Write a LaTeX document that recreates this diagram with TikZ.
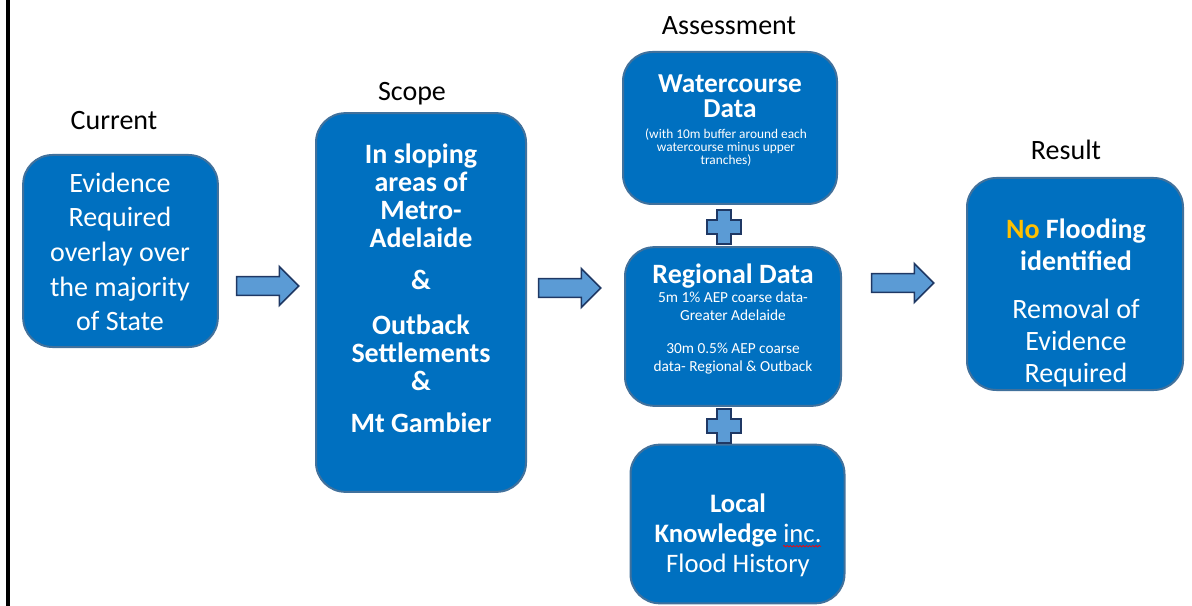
\documentclass[tikz,border=0pt]{standalone}
\usepackage{fontspec}
\setmainfont{Carlito}
\usetikzlibrary{shapes.arrows, decorations.pathmorphing}

\definecolor{boxblue}{HTML}{0070C0}
\definecolor{boxedge}{HTML}{41719C}
\definecolor{arrowfill}{HTML}{5B9BD5}
\definecolor{arrowedge}{HTML}{1F3864}
\definecolor{nogold}{HTML}{FFC000}

% red squiggle under a word
\newsavebox\spellbox
\newlength\spellwd
\newcommand\spellmark[1]{\sbox\spellbox{#1}\setlength\spellwd{\wd\spellbox}\usebox\spellbox\llap{\tikz[baseline=0pt]\draw[red, line width=0.5pt, decorate, decoration={snake, amplitude=0.6pt, segment length=2.4pt}] (0pt,-3pt) -- (\spellwd,-3pt);}}

\begin{document}
\begin{tikzpicture}[x=0.75pt, y=-0.75pt]
    \tikzstyle{stage}=[draw=boxedge, line width=1.5pt, fill=boxblue, rounded corners=22pt]
    \tikzstyle{inside}=[text=white, align=center, inner sep=0pt]
    \tikzstyle{heading}=[font=\fontsize{21}{25}\selectfont, inner sep=0pt]
    \tikzstyle{flow}=[single arrow, single arrow head extend=7.5pt, inner sep=6.4pt, minimum height=46.5pt, fill=arrowfill, draw=arrowedge, line width=1.2pt]
    \useasboundingbox (0,0) rectangle (1192,606);
    \draw[line width=2.5pt] (8,0) -- (8,606);

    % column headings
    \node[heading] (hcur) at (114,120.5) {Current};
    \node[heading] (hscope) at (412,93.5) {Scope};
    \node[heading] (hass) at (729,26) {Assessment};
    \node[heading] (hres) at (1066,149.5) {Result};

    % boxes
    \node[stage, minimum width=146pt, minimum height=144pt] (cur) at (120.5,251) {};
    \node[stage, minimum width=157.5pt, minimum height=284pt] (scope) at (421,302.5) {};
    \node[stage, minimum width=160.5pt, minimum height=114pt] (water) at (730,128) {};
    \node[stage, minimum width=162pt, minimum height=119pt] (reg) at (733,326.5) {};
    \node[stage, minimum width=160.5pt, minimum height=119pt] (local) at (737.5,524) {};
    \node[stage, minimum width=162pt, minimum height=159pt] (res) at (1075,284) {};

    % box texts
    \node[inside, font=\fontsize{21}{26}\selectfont] (curtext) at (120,252)
      {Evidence\\Required\\overlay over\\the majority\\of State};
    \node[inside, font=\fontsize{21}{21}\selectfont\bfseries] (scopetext) at (421,288)
      {In sloping\\areas of\\Metro-\\Adelaide\\[10.5pt]\&\\[12.75pt]Outback\\Settlements\\\&\\[10.5pt]Mt Gambier};
    \node[inside, font=\fontsize{20.5}{19}\selectfont\bfseries] (watertitle) at (730,96.5) {Watercourse\\Data};
    \node[inside, font=\fontsize{10}{10}\selectfont] (watersub) at (726,147.5)
      {(with 10m buffer around each\\watercourse minus upper\\tranches)};
    \node[inside, font=\fontsize{21}{25}\selectfont\bfseries] (regtitle) at (733,276) {Regional Data};
    \node[inside, font=\fontsize{11.5}{13.5}\selectfont] (regsub) at (733,333)
      {5m 1\% AEP coarse data-\\Greater Adelaide\\[11pt]30m 0.5\% AEP coarse\\data- Regional \& Outback};
    \node[inside, font=\fontsize{20}{22.5}\selectfont] (localtext) at (738,535)
      {\textbf{Local}\\\textbf{Knowledge} \spellmark{inc.}\\Flood History};
    \node[inside, font=\fontsize{21}{24}\selectfont] (restext) at (1076,303)
      {\textbf{\textcolor{nogold}{No} Flooding}\\\textbf{identified}\\[12pt]Removal of\\Evidence\\Required};

    % block arrows between stages
    \node[flow] (go1) at (263,286) {};
    \node[flow] (go2) at (565,288) {};
    \node[flow] (go3) at (898,283) {};

    % plus signs between data sources
    \foreach \cy in {227,426}
      \draw[fill=arrowfill, draw=arrowedge, line width=1.2pt] (717,\cy-17) -- ++(14,0) -- ++(0,10) -- ++(10,0)
        -- ++(0,14) -- ++(-10,0) -- ++(0,10) -- ++(-14,0) -- ++(0,-10) -- ++(-10,0) -- ++(0,-14) -- ++(10,0) -- cycle;
\end{tikzpicture}
\end{document}
